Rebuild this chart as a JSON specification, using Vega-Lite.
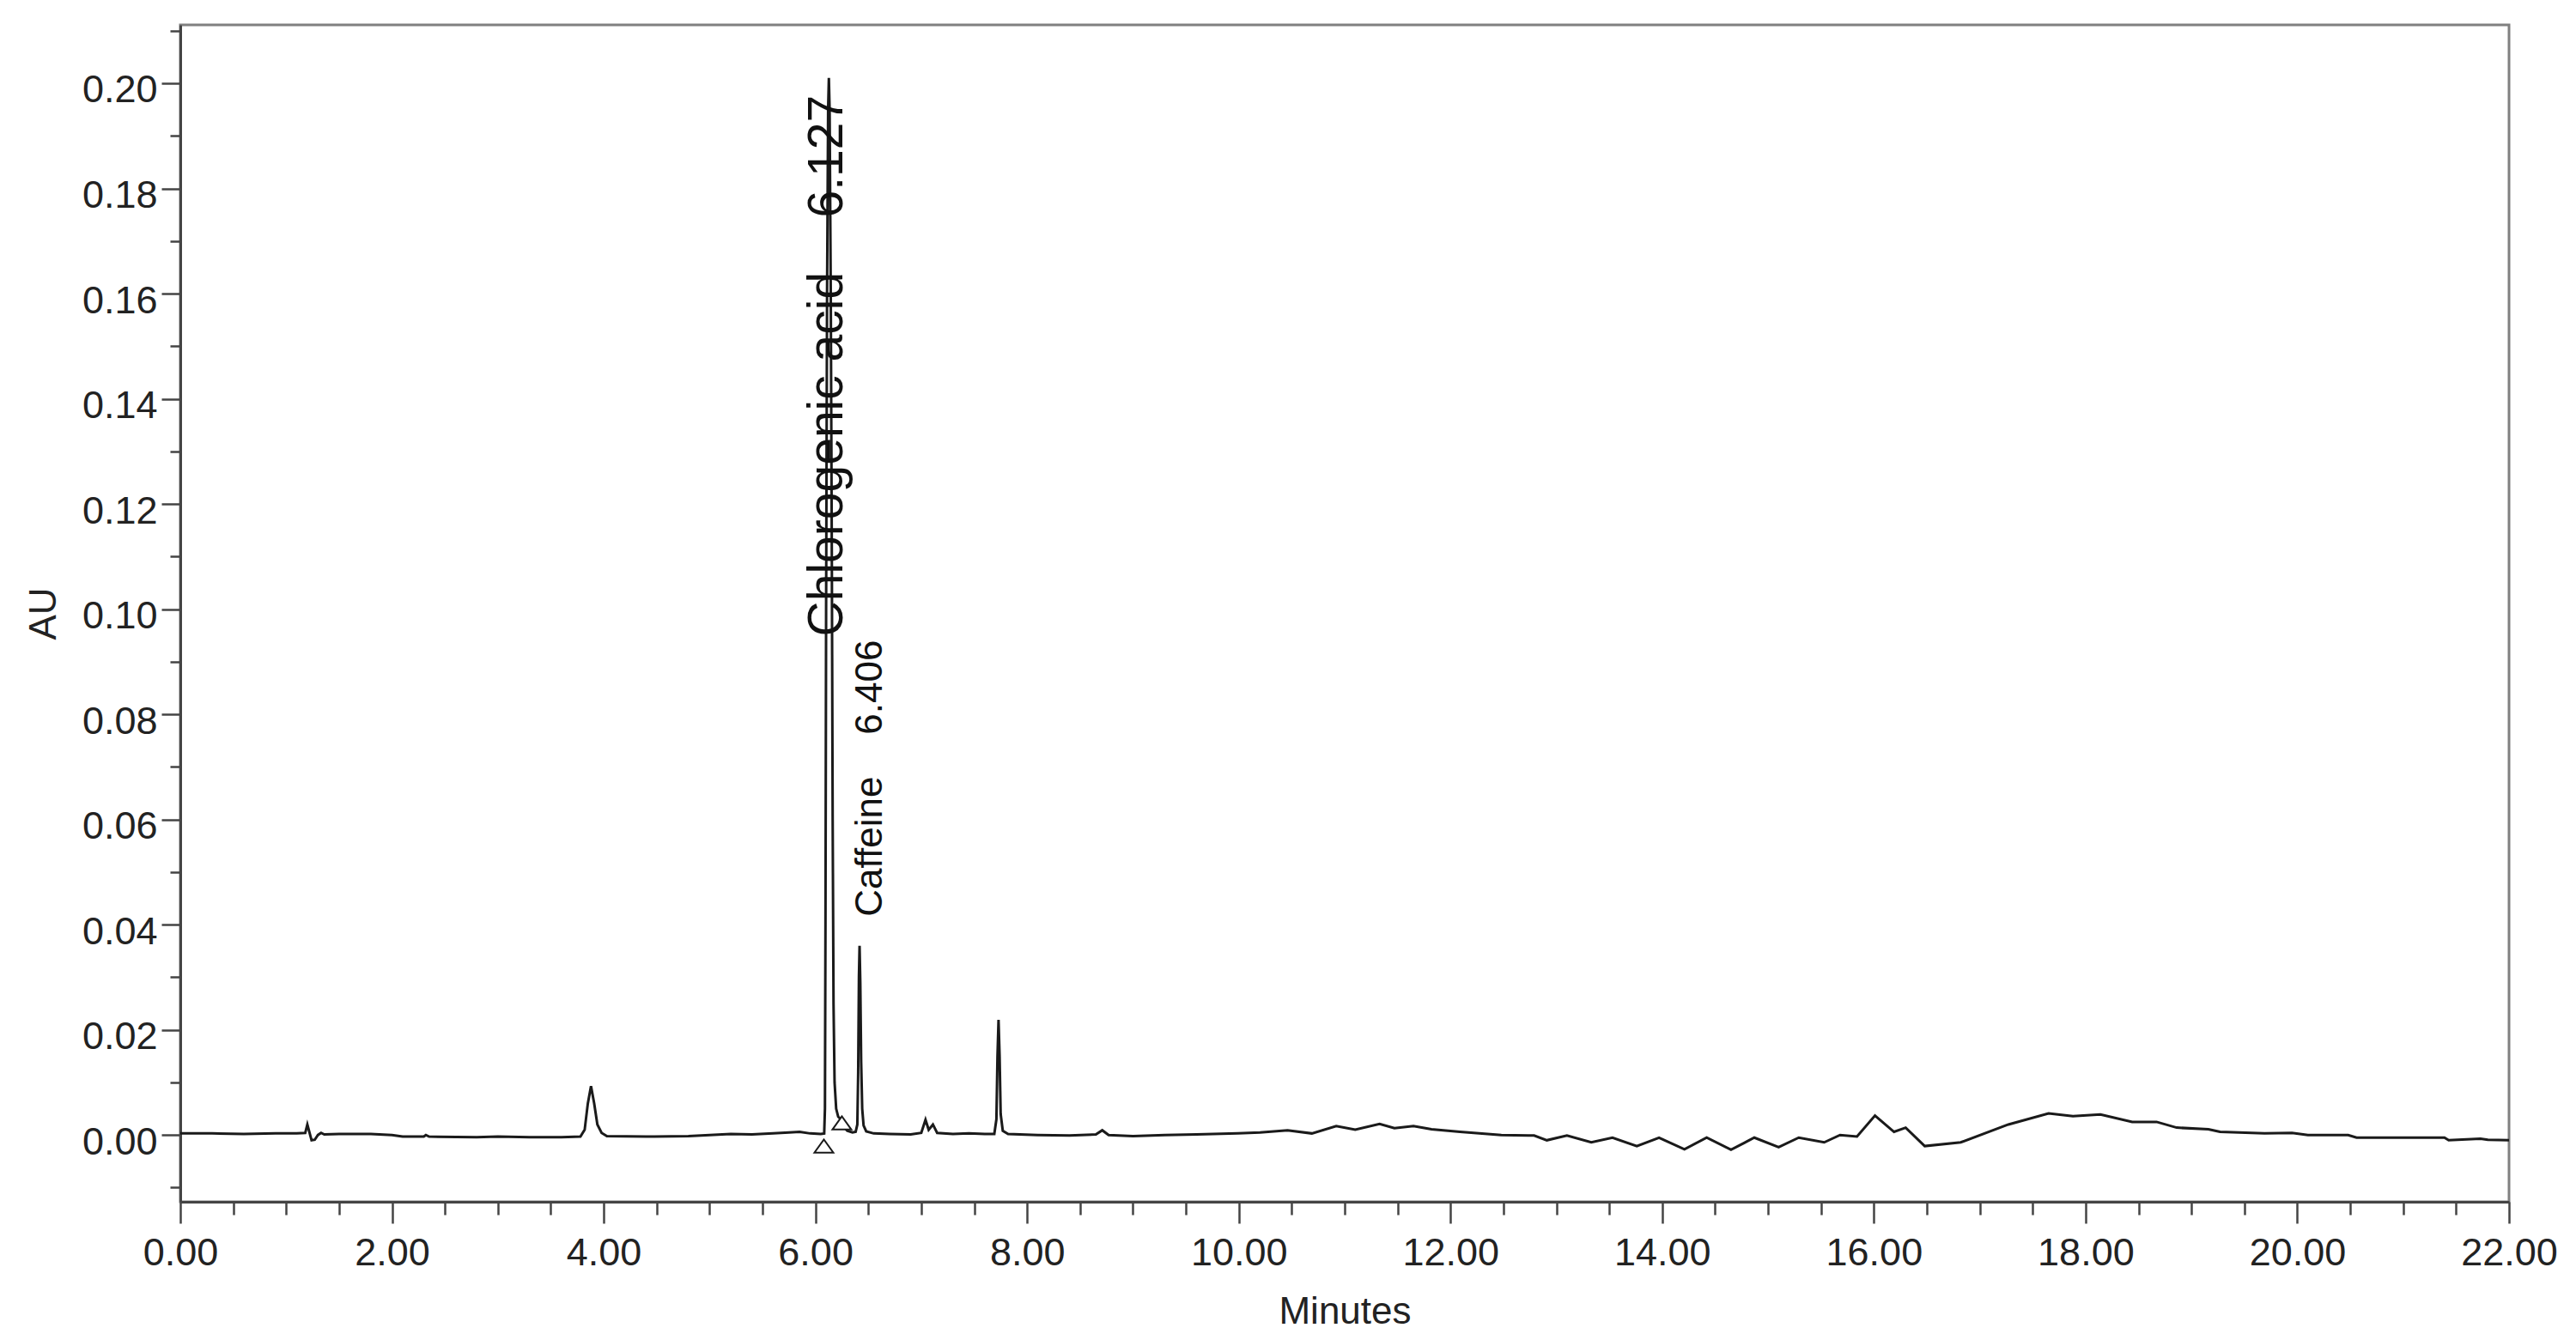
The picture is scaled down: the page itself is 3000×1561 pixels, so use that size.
{
  "$schema": "https://vega.github.io/schema/vega-lite/v6.json",
  "width": 2712,
  "height": 1371,
  "autosize": {"type": "none"},
  "padding": {"left": 210, "top": 29, "right": 78, "bottom": 161},
  "background": "white",
  "config": {
    "view": {"stroke": "#808080", "strokeWidth": 3},
    "font": "Liberation Sans"
  },
  "datasets": {
    "trace": [
      {"minutes": 0.00, "au": 0.0003}, {"minutes": 0.30, "au": 0.0003}, {"minutes": 0.60, "au": 0.0002},
      {"minutes": 0.90, "au": 0.0003}, {"minutes": 1.10, "au": 0.0003}, {"minutes": 1.18, "au": 0.0004},
      {"minutes": 1.20, "au": 0.0020}, {"minutes": 1.22, "au": 0.0005}, {"minutes": 1.24, "au": -0.0010},
      {"minutes": 1.27, "au": -0.0009}, {"minutes": 1.30, "au": 0.0000}, {"minutes": 1.33, "au": 0.0004},
      {"minutes": 1.36, "au": 0.0001}, {"minutes": 1.50, "au": 0.0002}, {"minutes": 1.80, "au": 0.0002},
      {"minutes": 2.00, "au": 0.0000}, {"minutes": 2.10, "au": -0.0003}, {"minutes": 2.30, "au": -0.0003},
      {"minutes": 2.32, "au": 0.0000}, {"minutes": 2.35, "au": -0.0003}, {"minutes": 2.80, "au": -0.0004},
      {"minutes": 3.00, "au": -0.0003}, {"minutes": 3.30, "au": -0.0004}, {"minutes": 3.60, "au": -0.0004},
      {"minutes": 3.78, "au": -0.0003}, {"minutes": 3.82, "au": 0.0010}, {"minutes": 3.85, "au": 0.0060},
      {"minutes": 3.88, "au": 0.0093}, {"minutes": 3.91, "au": 0.0060}, {"minutes": 3.94, "au": 0.0020},
      {"minutes": 3.98, "au": 0.0004}, {"minutes": 4.03, "au": -0.0002}, {"minutes": 4.40, "au": -0.0003},
      {"minutes": 4.80, "au": -0.0002}, {"minutes": 5.00, "au": 0.0000}, {"minutes": 5.20, "au": 0.0002},
      {"minutes": 5.40, "au": 0.0001}, {"minutes": 5.60, "au": 0.0003}, {"minutes": 5.75, "au": 0.0005},
      {"minutes": 5.85, "au": 0.0006}, {"minutes": 5.95, "au": 0.0003}, {"minutes": 6.05, "au": 0.0002},
      {"minutes": 6.083, "au": 0.0003}, {"minutes": 6.090, "au": 0.005}, {"minutes": 6.095, "au": 0.040},
      {"minutes": 6.101, "au": 0.100}, {"minutes": 6.110, "au": 0.160}, {"minutes": 6.120, "au": 0.195},
      {"minutes": 6.127, "au": 0.201}, {"minutes": 6.134, "au": 0.195}, {"minutes": 6.145, "au": 0.160},
      {"minutes": 6.155, "au": 0.110}, {"minutes": 6.163, "au": 0.060}, {"minutes": 6.171, "au": 0.025},
      {"minutes": 6.181, "au": 0.010}, {"minutes": 6.196, "au": 0.005}, {"minutes": 6.215, "au": 0.0035},
      {"minutes": 6.24, "au": 0.0030}, {"minutes": 6.27, "au": 0.0015}, {"minutes": 6.30, "au": 0.0008},
      {"minutes": 6.35, "au": 0.0005}, {"minutes": 6.38, "au": 0.0006}, {"minutes": 6.396, "au": 0.002},
      {"minutes": 6.404, "au": 0.012}, {"minutes": 6.411, "au": 0.030}, {"minutes": 6.417, "au": 0.036},
      {"minutes": 6.424, "au": 0.029}, {"minutes": 6.432, "au": 0.014}, {"minutes": 6.442, "au": 0.005},
      {"minutes": 6.455, "au": 0.0018}, {"minutes": 6.48, "au": 0.0007}, {"minutes": 6.55, "au": 0.0003},
      {"minutes": 6.70, "au": 0.0002}, {"minutes": 6.90, "au": 0.0001}, {"minutes": 7.00, "au": 0.0004},
      {"minutes": 7.04, "au": 0.0029}, {"minutes": 7.07, "au": 0.0010}, {"minutes": 7.11, "au": 0.0020},
      {"minutes": 7.15, "au": 0.0004}, {"minutes": 7.30, "au": 0.0002}, {"minutes": 7.45, "au": 0.0003},
      {"minutes": 7.60, "au": 0.0002}, {"minutes": 7.69, "au": 0.0002}, {"minutes": 7.71, "au": 0.003},
      {"minutes": 7.72, "au": 0.015}, {"minutes": 7.73, "au": 0.0219}, {"minutes": 7.74, "au": 0.015},
      {"minutes": 7.75, "au": 0.004}, {"minutes": 7.77, "au": 0.0008}, {"minutes": 7.82, "au": 0.0002},
      {"minutes": 8.10, "au": 0.0000}, {"minutes": 8.40, "au": -0.0001}, {"minutes": 8.65, "au": 0.0001},
      {"minutes": 8.71, "au": 0.0009}, {"minutes": 8.77, "au": 0.0000}, {"minutes": 9.00, "au": -0.0002},
      {"minutes": 9.30, "au": 0.0000}, {"minutes": 9.60, "au": 0.0001}, {"minutes": 9.99, "au": 0.0003},
      {"minutes": 10.20, "au": 0.0005}, {"minutes": 10.46, "au": 0.0009}, {"minutes": 10.69, "au": 0.0003},
      {"minutes": 10.92, "au": 0.0017}, {"minutes": 11.10, "au": 0.0010}, {"minutes": 11.33, "au": 0.0021},
      {"minutes": 11.47, "au": 0.0013}, {"minutes": 11.65, "au": 0.0017}, {"minutes": 11.82, "au": 0.0011},
      {"minutes": 12.09, "au": 0.0006}, {"minutes": 12.48, "au": 0.0000}, {"minutes": 12.79, "au": -0.0001},
      {"minutes": 12.91, "au": -0.0010}, {"minutes": 13.10, "au": -0.0001}, {"minutes": 13.33, "au": -0.0014},
      {"minutes": 13.53, "au": -0.0005}, {"minutes": 13.76, "au": -0.0021}, {"minutes": 13.97, "au": -0.0005},
      {"minutes": 14.21, "au": -0.0027}, {"minutes": 14.42, "au": -0.0005}, {"minutes": 14.65, "au": -0.0028},
      {"minutes": 14.87, "au": -0.0005}, {"minutes": 15.10, "au": -0.0023}, {"minutes": 15.29, "au": -0.0005},
      {"minutes": 15.53, "au": -0.0014}, {"minutes": 15.68, "au": 0.0000}, {"minutes": 15.84, "au": -0.0003},
      {"minutes": 16.01, "au": 0.0037}, {"minutes": 16.19, "au": 0.0006}, {"minutes": 16.30, "au": 0.0014},
      {"minutes": 16.48, "au": -0.0021}, {"minutes": 16.82, "au": -0.0014}, {"minutes": 17.27, "au": 0.0020},
      {"minutes": 17.65, "au": 0.0041}, {"minutes": 17.88, "au": 0.0036}, {"minutes": 18.14, "au": 0.0039},
      {"minutes": 18.44, "au": 0.0025}, {"minutes": 18.67, "au": 0.0025}, {"minutes": 18.86, "au": 0.0014},
      {"minutes": 19.16, "au": 0.0011}, {"minutes": 19.27, "au": 0.0006}, {"minutes": 19.69, "au": 0.0003},
      {"minutes": 19.95, "au": 0.0004}, {"minutes": 20.10, "au": 0.0000}, {"minutes": 20.48, "au": 0.0000},
      {"minutes": 20.56, "au": -0.0005}, {"minutes": 21.39, "au": -0.0005}, {"minutes": 21.43, "au": -0.0010},
      {"minutes": 21.73, "au": -0.0007}, {"minutes": 21.80, "au": -0.0009}, {"minutes": 22.00, "au": -0.0010}
    ],
    "markers": [
      {"minutes": 6.08, "au": -0.0021},
      {"minutes": 6.25, "au": 0.0023}
    ],
    "labels": [
      {"compound": "Chlorogenic acid", "minutes": 6.127, "au": 0.201, "label": "Chlorogenic acid\u00a0\u00a0\u00a0\u00a06.127"},
      {"compound": "Caffeine", "minutes": 6.406, "au": 0.036, "label": "Caffeine\u00a0\u00a0\u00a0\u00a06.406"}
    ]
  },
  "layer": [
    {
      "data": {"name": "trace"},
      "mark": {"type": "line", "color": "#1a1a1a", "strokeWidth": 3},
      "encoding": {
        "x": {
          "field": "minutes", "type": "quantitative",
          "scale": {"domain": [0, 22], "nice": false, "zero": false},
          "axis": {
            "title": "Minutes",
            "values": [0,0.5,1,1.5,2,2.5,3,3.5,4,4.5,5,5.5,6,6.5,7,7.5,8,8.5,9,9.5,10,10.5,11,11.5,12,12.5,13,13.5,14,14.5,15,15.5,16,16.5,17,17.5,18,18.5,19,19.5,20,20.5,21,21.5,22],
            "labelExpr": "datum.value % 2 === 0 ? format(datum.value, '.2f') : ''",
            "tickSize": {"condition": {"test": "datum.value % 2 === 0", "value": 25}, "value": 15},
            "grid": false,
            "labelOverlap": false,
            "labelFlush": false,
            "labelBound": false,
            "labelFont": "Liberation Sans",
            "labelFontSize": 45,
            "labelColor": "#222222",
            "labelPadding": 12,
            "tickColor": "#444444",
            "tickWidth": 2.5,
            "domainColor": "#444444",
            "domainWidth": 3,
            "titleFont": "Liberation Sans",
            "titleFontSize": 44,
            "titleFontWeight": "normal",
            "titleColor": "#222222",
            "titlePadding": 24
          }
        },
        "y": {
          "field": "au", "type": "quantitative",
          "scale": {"domain": [-0.0127, 0.2111], "nice": false, "zero": false},
          "axis": {
            "title": "AU",
            "values": [-0.01,-0.005,0,0.005,0.01,0.015,0.02,0.025,0.03,0.035,0.04,0.045,0.05,0.055,0.06,0.065,0.07,0.075,0.08,0.085,0.09,0.095,0.1,0.105,0.11,0.115,0.12,0.125,0.13,0.135,0.14,0.145,0.15,0.155,0.16,0.165,0.17,0.175,0.18,0.185,0.19,0.195,0.2,0.205,0.21],
            "labelExpr": "abs(datum.value*50 - round(datum.value*50)) < 0.001 ? format(datum.value, '.2f') : ''",
            "tickSize": {"condition": {"test": "abs(datum.value*50 - round(datum.value*50)) < 0.001", "value": 22}, "value": 12},
            "grid": false,
            "labelOverlap": false,
            "labelFlush": false,
            "labelBound": false,
            "labelFont": "Liberation Sans",
            "labelFontSize": 45,
            "labelColor": "#222222",
            "labelPadding": 5,
            "labelOffset": 8,
            "tickColor": "#444444",
            "tickWidth": 2.5,
            "domainColor": "#444444",
            "domainWidth": 3,
            "titleFont": "Liberation Sans",
            "titleFontSize": 44,
            "titleFontWeight": "normal",
            "titleColor": "#222222",
            "titlePadding": 22
          }
        }
      }
    },
    {
      "data": {"name": "markers"},
      "mark": {"type": "point", "shape": "M-1,0.7L1,0.7L0,-0.7Z", "size": 484, "filled": true, "fill": "white", "stroke": "#1a1a1a", "strokeWidth": 2, "opacity": 1},
      "encoding": {
        "x": {"field": "minutes", "type": "quantitative"},
        "y": {"field": "au", "type": "quantitative"}
      }
    },
    {
      "data": {"name": "labels"},
      "transform": [{"filter": "datum.compound === 'Chlorogenic acid'"}],
      "mark": {"type": "text", "angle": 270, "align": "right", "baseline": "alphabetic", "fontSize": 57, "font": "Liberation Sans", "color": "#111111", "dx": -20, "dy": 16},
      "encoding": {
        "x": {"field": "minutes", "type": "quantitative"},
        "y": {"field": "au", "type": "quantitative"},
        "text": {"field": "label"}
      }
    },
    {
      "data": {"name": "labels"},
      "transform": [{"filter": "datum.compound === 'Caffeine'"}],
      "mark": {"type": "text", "angle": 270, "align": "left", "baseline": "alphabetic", "fontSize": 44, "font": "Liberation Sans", "color": "#111111", "dx": 34, "dy": 27},
      "encoding": {
        "x": {"field": "minutes", "type": "quantitative"},
        "y": {"field": "au", "type": "quantitative"},
        "text": {"field": "label"}
      }
    }
  ]
}
